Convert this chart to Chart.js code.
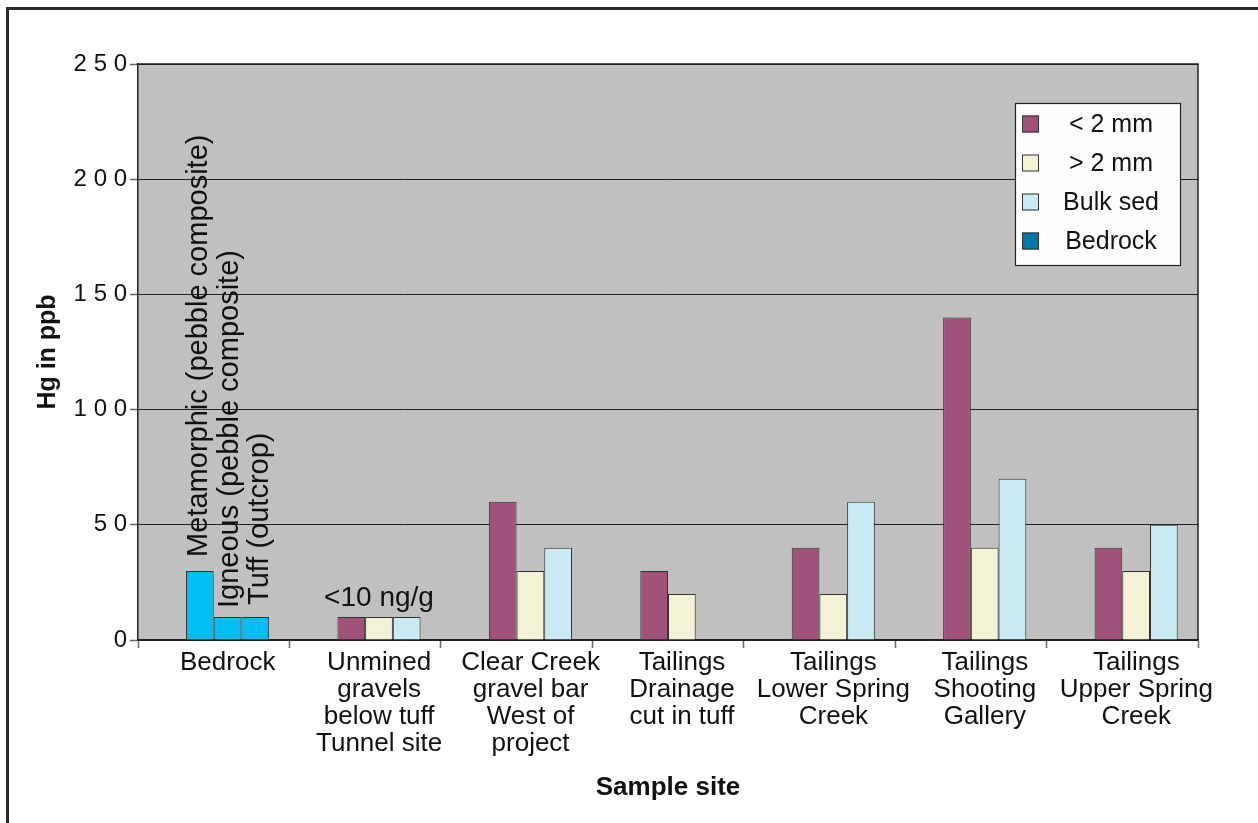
<!DOCTYPE html>
<html>
<head>
<meta charset="utf-8">
<script src="https://cdn.jsdelivr.net/npm/chart.js@4.4.1/dist/chart.umd.min.js"></script>
<style>
  html, body { margin: 0; padding: 0; background: #fff; overflow: hidden; }
  #wrap { width: 1258px; height: 823px; }
</style>
</head>
<body>
<div id="wrap"><canvas id="chart" width="1258" height="823"></canvas></div>
<script>
const sites = [
  'Bedrock',
  ['Unmined', 'gravels', 'below tuff', 'Tunnel site'],
  ['Clear Creek', 'gravel bar', 'West of', 'project'],
  ['Tailings', 'Drainage', 'cut in tuff'],
  ['Tailings', 'Lower Spring', 'Creek'],
  ['Tailings', 'Shooting', 'Gallery'],
  ['Tailings', 'Upper Spring', 'Creek']
];
// Hg in ppb, one value per site (Bedrock site carries the rock samples below)
const fine   = [null, 10, 60, 30, 40, 140, 40];   // < 2 mm
const coarse = [null, 10, 30, 20, 20, 40, 30];    // > 2 mm
const bulk   = [null, 10, 40, null, 60, 70, 50];  // Bulk sed
const bedrockSamples = ['Metamorphic (pebble composite)', 'Igneous (pebble composite)', 'Tuff (outcrop)'];
const bedrockValues  = [30, 10, 10];
const yTicks = [0, 50, 100, 150, 200, 250];
const belowNote = '<10 ng/g';

const COLORS = {
  fine: '#A0527A',
  coarse: '#F3F2D6',
  bulk: '#C9E9F3',
  bedrockKey: '#0077A9',
  bedrockBar: '#00BEF0',
  plot: '#C0C0C0',
  line: '#222'
};
const FONT = 'Liberation Sans, Arial, Helvetica, sans-serif';

// bedrock samples sit in the first three grouped slots of the Bedrock site
function withBedrock(arr, i) {
  const out = arr.slice();
  out[0] = bedrockValues[i];
  return out;
}
function colorsFor(base) {
  return sites.map((_, i) => i === 0 ? COLORS.bedrockBar : base);
}

const frameAndPlot = {
  id: 'frameAndPlot',
  beforeDraw(chart) {
    const { ctx, chartArea: a } = chart;
    ctx.save();
    ctx.fillStyle = COLORS.plot;
    ctx.fillRect(a.left, a.top, a.right - a.left, a.bottom - a.top);
    ctx.strokeStyle = '#2a2a2a';
    ctx.lineWidth = 3;
    ctx.strokeRect(7.5, 8.5, 1400, 1000);
    ctx.restore();
  },
  afterDraw(chart) {
    const { ctx, chartArea: a } = chart;
    ctx.save();
    ctx.strokeStyle = COLORS.line;
    ctx.lineWidth = 1.5;
    ctx.beginPath();
    ctx.moveTo(a.left, a.top);
    ctx.lineTo(a.right, a.top);
    ctx.lineTo(a.right, a.bottom);
    ctx.stroke();
    ctx.restore();
  }
};

const notes = {
  id: 'notes',
  afterDatasetsDraw(chart) {
    const { ctx } = chart;
    ctx.save();
    ctx.fillStyle = '#111';
    // rotated bedrock sample names above their bars
    const dx = [-1, 2, 5];
    const gap = [14, 9, 12];
    ctx.font = '29px ' + FONT;
    ctx.textAlign = 'left';
    ctx.textBaseline = 'middle';
    bedrockSamples.forEach((name, i) => {
      const bar = chart.getDatasetMeta(i + 1).data[0];
      ctx.save();
      ctx.translate(bar.x + dx[i], bar.y - gap[i]);
      ctx.rotate(-Math.PI / 2);
      ctx.fillText(name, 0, 0);
      ctx.restore();
    });
    // detection-limit note over the unmined gravels
    const mid = chart.getDatasetMeta(2).data[1];
    ctx.font = '28px ' + FONT;
    ctx.textAlign = 'center';
    ctx.textBaseline = 'alphabetic';
    ctx.fillText(belowNote, mid.x, mid.y - 11);
    ctx.restore();
  }
};

const boxLegend = {
  id: 'boxLegend',
  afterDraw(chart) {
    const { ctx, chartArea: a } = chart;
    const order = [1, 2, 3, 0];
    const w = 165, h = 162;
    const x0 = a.right - 18 - w, y0 = a.top + 39;
    ctx.save();
    ctx.fillStyle = '#FEFEFC';
    ctx.fillRect(x0, y0, w, h);
    ctx.strokeStyle = '#222';
    ctx.lineWidth = 1.2;
    ctx.strokeRect(x0 + 0.5, y0 + 0.5, w, h);
    ctx.font = '25px ' + FONT;
    ctx.textAlign = 'center';
    ctx.textBaseline = 'middle';
    order.forEach((di, row) => {
      const ds = chart.data.datasets[di];
      const cy = y0 + 21 + row * 39;
      ctx.fillStyle = ds.legendColor;
      ctx.fillRect(x0 + 7, cy - 8.5, 17, 17);
      ctx.strokeStyle = '#333';
      ctx.lineWidth = 1;
      ctx.strokeRect(x0 + 7.5, cy - 8, 16, 16);
      ctx.fillStyle = '#111';
      ctx.fillText(ds.label, x0 + 96, cy + 1);
    });
    ctx.restore();
  }
};

new Chart(document.getElementById('chart'), {
  type: 'bar',
  data: {
    labels: sites,
    datasets: [
      { label: 'Bedrock', data: sites.map(() => null), backgroundColor: COLORS.bedrockKey, legendColor: COLORS.bedrockKey },
      { label: '< 2 mm', data: withBedrock(fine, 0), backgroundColor: colorsFor(COLORS.fine), legendColor: COLORS.fine },
      { label: '> 2 mm', data: withBedrock(coarse, 1), backgroundColor: colorsFor(COLORS.coarse), legendColor: COLORS.coarse },
      { label: 'Bulk sed', data: withBedrock(bulk, 2), backgroundColor: colorsFor(COLORS.bulk), legendColor: COLORS.bulk }
    ]
  },
  options: {
    responsive: false,
    animation: false,
    categoryPercentage: 0.732,
    barPercentage: 1,
    borderColor: '#333',
    borderWidth: 1,
    layout: { padding: { top: 64, right: 60, left: 0, bottom: 0 } },
    plugins: { legend: { display: false }, tooltip: { enabled: false } },
    scales: {
      x: {
        offset: true,
        grid: { offset: true, drawOnChartArea: false, drawTicks: true, tickLength: 8, tickColor: '#666', tickWidth: 1.5 },
        border: { color: COLORS.line, width: 1.5 },
        ticks: { color: '#111', font: { family: FONT, size: 26, lineHeight: 1.04 }, maxRotation: 0, autoSkip: false, padding: 1, labelOffset: 14 },
        title: { display: true, text: 'Sample site', color: '#111', font: { family: FONT, size: 26, weight: 'bold' }, padding: { top: 0, bottom: 20 } },
        afterFit(scale) { scale.height = 183; }
      },
      y: {
        min: 0, max: 250,
        afterBuildTicks(scale) { scale.ticks = yTicks.map(v => ({ value: v })); },
        grid: { color: COLORS.line, lineWidth: 1, drawTicks: true, tickLength: 8, tickColor: '#666', tickWidth: 1.5 },
        border: { color: COLORS.line, width: 1.5 },
        ticks: { color: '#111', font: { family: FONT, size: 24 }, padding: 3, callback: v => String(v).split('').join(' ') },
        title: { display: true, text: 'Hg in ppb', color: '#111', font: { family: FONT, size: 25, weight: 'bold' }, padding: { top: 33, bottom: 0 } },
        afterFit(scale) { scale.width = 138; }
      }
    }
  },
  plugins: [frameAndPlot, notes, boxLegend]
});
</script>
</body>
</html>
